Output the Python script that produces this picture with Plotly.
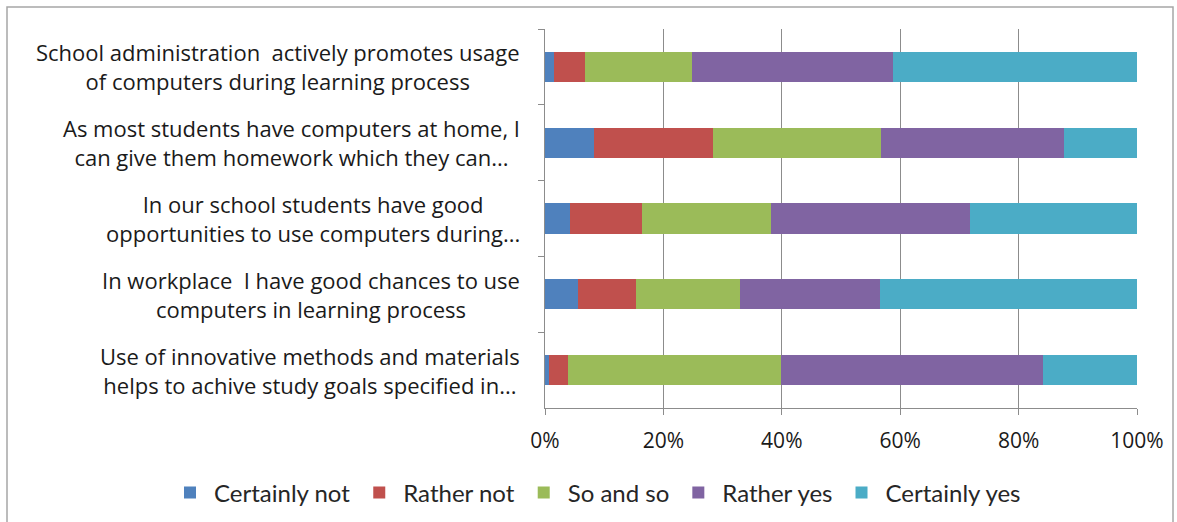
import plotly.graph_objects as go

categories = [
    "School administration  actively promotes usage<br>of computers during learning process",
    "As most students have computers at home, I<br>can give them homework which they can...",
    "In our school students have good<br>opportunities to use computers during...",
    "In workplace  I have good chances to use<br>computers in learning process",
    "Use of innovative methods and materials<br>helps to achive study goals specified in...",
]
cat_ids = ["c1", "c2", "c3", "c4", "c5"]

series_names = ["Certainly not", "Rather not", "So and so", "Rather yes", "Certainly yes"]
certainly_not = [1.6, 8.3, 4.3, 5.5, 0.6]
rather_not = [5.1, 20.1, 12.0, 9.8, 3.2]
so_and_so = [18.1, 28.4, 21.9, 17.7, 36.0]
rather_yes = [33.9, 30.9, 33.6, 23.6, 44.3]
certainly_yes = [41.3, 12.3, 28.2, 43.4, 15.9]
series_values = [certainly_not, rather_not, so_and_so, rather_yes, certainly_yes]
colors = ["#4F81BD", "#C0504D", "#9BBB59", "#8064A2", "#4BACC6"]

x_tickvals = [0, 20, 40, 60, 80, 100]
x_ticktext = ["0%", "20%", "40%", "60%", "80%", "100%"]

LABEL_FONT = "Open Sans"
LEGEND_FONT = "Lato"

fig = go.Figure()
for name, vals, col in zip(series_names, series_values, colors):
    fig.add_trace(go.Bar(
        y=cat_ids, x=vals, name=name, orientation="h",
        marker=dict(color=col, line=dict(width=0)),
    ))

W, H = 1177, 522
L, R, T, B = 545, 40, 29, 114
pw, ph = W - L - R, H - T - B

for cid, label in zip(cat_ids, categories):
    fig.add_annotation(
        x=(522 - L) / pw, xref="paper", y=cid, yref="y",
        text=label, showarrow=False, xanchor="right", yanchor="middle",
        align="center", font=dict(family=LABEL_FONT, size=22, color="#1a1a1a"),
    )

# outer chart border
fig.add_shape(type="rect", xref="paper", yref="paper",
              x0=(7 - L) / pw, x1=(1173 - L) / pw,
              y0=(H - 530 - B) / ph, y1=1 + (T - 7) / ph,
              line=dict(color="#a6a6a6", width=1.5), layer="below")

fig.update_layout(
    width=W, height=H,
    margin=dict(l=L, r=R, t=T, b=B, autoexpand=False),
    barmode="stack", bargap=0.6,
    plot_bgcolor="white", paper_bgcolor="white",
    font=dict(family=LABEL_FONT, size=22, color="#1a1a1a"),
    showlegend=True,
    legend=dict(
        orientation="h", x=(166 - L) / pw, xanchor="left",
        y=(H - 493 - B) / ph, yanchor="middle",
        font=dict(family=LEGEND_FONT, size=24, color="#262626"),
        traceorder="normal", itemwidth=38,
    ),
    xaxis=dict(
        range=[0, 100], tickvals=x_tickvals, ticktext=x_ticktext,
        showgrid=True, gridcolor="#8c8c8c", gridwidth=1,
        showline=True, linecolor="#8c8c8c", linewidth=1,
        ticks="outside", ticklen=6, tickcolor="#8c8c8c",
        ticklabelstandoff=8,
        zeroline=False, fixedrange=True,
        tickfont=dict(family=LABEL_FONT, size=21, color="#1a1a1a"),
    ),
    yaxis=dict(
        type="category", categoryorder="array", categoryarray=cat_ids,
        autorange="reversed", showticklabels=False,
        showline=True, linecolor="#8c8c8c", linewidth=1,
        ticks="outside", ticklen=6, tickcolor="#8c8c8c",
        tickson="boundaries", showgrid=False, zeroline=False,
    ),
)

fig.write_html("out.html")
